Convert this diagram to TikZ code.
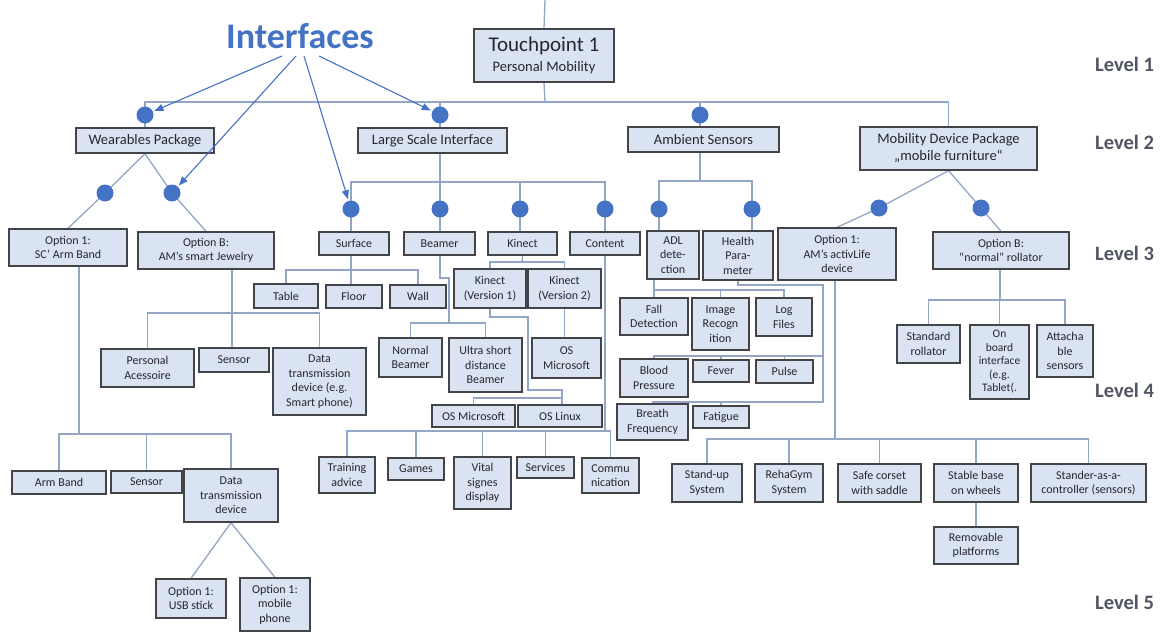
\documentclass[tikz,border=0pt]{standalone}
\usepackage{fontspec}
\setmainfont{Carlito}
\usetikzlibrary{arrows.meta,backgrounds,calc}

\definecolor{boxfill}{RGB}{218,227,242}
\definecolor{boxline}{RGB}{68,68,72}
\definecolor{wirec}{RGB}{148,166,198}
\definecolor{accent}{RGB}{68,114,196}
\definecolor{txt}{RGB}{38,38,46}
\definecolor{lvl}{RGB}{82,86,98}

\tikzset{
  bx/.style={draw=boxline, fill=boxfill, line width=1.4pt, inner sep=0pt,
    align=center, text=txt, font=\fontsize{12}{14.5}\selectfont},
  bxL/.style={font=\fontsize{14.5}{17}\selectfont},
  dotn/.style={circle, fill=accent, inner sep=0pt, minimum size=17pt},
  wire/.style={draw=wirec, line width=1.3pt},
  iarrow/.style={draw=accent, line width=1.1pt, shorten >=1.5pt,
    -{Triangle[length=9pt,width=7pt]}},
  lvllabel/.style={anchor=west, text=lvl, inner sep=0pt,
    font=\bfseries\fontsize{20.5}{24}\selectfont},
}

% box given by its corners (x1,y1) and (x2,y2), y grows downwards
\newcommand\bx[7][]{\node[bx,#1,minimum width={#5-#3},minimum height={#6-#4}]
  (#2) at ({(#3+#5)/2},{(#4+#6)/2}) {#7};}

\begin{document}
\begin{tikzpicture}[x=1pt,y=-1pt]
\useasboundingbox (0,0) rectangle (1164,632);

% ---- title and level labels
\node[font=\bfseries\fontsize{36}{40}\selectfont, text=accent, anchor=base, inner sep=0pt]
  (iface) at (300,48) {Interfaces};
\node[lvllabel] (lv1) at (1095,64) {Level 1};
\node[lvllabel] (lv2) at (1095,142) {Level 2};
\node[lvllabel] (lv3) at (1095,253) {Level 3};
\node[lvllabel] (lv4) at (1095,390) {Level 4};
\node[lvllabel] (lv5) at (1095,602) {Level 5};

% ---- level 1 and 2
\bx[bxL]{tp}{474}{29}{614}{82}{{\fontsize{21}{24}\selectfont Touchpoint 1}\\[3pt]Personal Mobility}
\bx[bxL]{wear}{76}{128}{214}{153}{Wearables Package}
\bx[bxL]{lsi}{358}{128}{507}{153}{Large Scale Interface}
\bx[bxL]{amb}{628}{127}{779}{152}{Ambient Sensors}
\bx[bxL]{mob}{860}{127}{1037}{170}{Mobility Device Package\\„mobile furniture“}

% ---- level 3
\bx{opt1sc}{9}{229}{127}{266}{Option 1:\\SC’ Arm Band}
\bx{optBj}{138}{232}{274}{269}{Option B:\\AM’s smart Jewelry}
\bx{surf}{319}{232}{389}{255}{Surface}
\bx{beam}{404}{232}{475}{255}{Beamer}
\bx{kin}{488}{232}{557}{255}{Kinect}
\bx{cont}{570}{232}{640}{255}{Content}
\bx{adl}{647}{231}{699}{279}{ADL\\dete-\\ction}
\bx{hp}{703}{231}{773}{280}{Health\\Para-\\meter}
\bx{opt1al}{778}{228}{896}{280}{Option 1:\\AM’s activLife\\device}
\bx{optBr}{933}{232}{1069}{269}{Option B:\\“normal” rollator}

% ---- level 4 and below
\bx{table}{254}{284}{318}{308}{Table}
\bx{floor}{326}{285}{382}{308}{Floor}
\bx{wall}{390}{285}{446}{308}{Wall}
\bx{kv1}{454}{269}{526}{308}{Kinect\\(Version 1)}
\bx{kv2}{528}{269}{601}{308}{Kinect\\(Version 2)}
\bx{pers}{101}{349}{194}{387}{Personal\\Acessoire}
\bx{sensB}{199}{348}{269}{372}{Sensor}
\bx{dataB}{273}{348}{366}{415}{Data\\transmission\\device (e.g.\\Smart phone)}
\bx{nbeam}{379}{338}{442}{377}{Normal\\Beamer}
\bx{ubeam}{449}{338}{522}{392}{Ultra short\\distance\\Beamer}
\bx{osm2}{532}{338}{601}{378}{OS\\Microsoft}
\bx{osm}{432}{405}{515}{427}{OS Microsoft}
\bx{osl}{518}{405}{602}{427}{OS Linux}
\bx{fall}{620}{298}{688}{335}{Fall\\Detection}
\bx{img}{692}{298}{749}{350}{Image\\Recogn\\ition}
\bx{logf}{756}{298}{812}{336}{Log\\Files}
\bx{blood}{620}{359}{688}{397}{Blood\\Pressure}
\bx{fever}{693}{360}{749}{382}{Fever}
\bx{pulse}{756}{360}{813}{383}{Pulse}
\bx{breath}{617}{404}{688}{440}{Breath\\Frequency}
\bx{fatig}{693}{406}{749}{428}{Fatigue}
\bx{stdr}{897}{325}{960}{363}{Standard\\rollator}
\bx[font=\fontsize{11.5}{13.5}\selectfont]{onb}{970}{325}{1029}{399}{On\\board\\interface\\(e.g.\\Tablet(.}
\bx{att}{1037}{325}{1093}{377}{Attacha\\ble\\sensors}
\bx{armb}{12}{471}{106}{494}{Arm Band}
\bx{sensA}{111}{471}{182}{493}{Sensor}
\bx{dataA}{184}{469}{278}{522}{Data\\transmission\\device}
\bx{usb}{156}{579}{226}{618}{Option 1:\\USB stick}
\bx{phone}{240}{578}{310}{631}{Option 1:\\mobile\\phone}
\bx{train}{319}{457}{375}{493}{Training\\advice}
\bx{games}{388}{458}{444}{480}{Games}
\bx{vital}{454}{457}{511}{509}{Vital\\signes\\display}
\bx{serv}{517}{457}{574}{478}{Services}
\bx{comm}{582}{458}{639}{493}{Commu\\nication}
\bx{stand}{672}{464}{742}{502}{Stand-up\\System}
\bx{reha}{755}{464}{823}{502}{RehaGym\\System}
\bx{safe}{838}{464}{921}{502}{Safe corset\\with saddle}
\bx{stable}{934}{464}{1018}{502}{Stable base\\on wheels}
\bx{stander}{1031}{464}{1146}{502}{Stander-as-a-\\controller (sensors)}
\bx{remov}{934}{527}{1018}{564}{Removable\\platforms}

% ---- branch dots
\node[dotn] (dW)  at (145,115) {};
\node[dotn] (dL)  at (440,115) {};
\node[dotn] (dA)  at (700,115) {};
\node[dotn] (dW1) at (105,193) {};
\node[dotn] (dW2) at (172,193) {};
\node[dotn] (dS)  at (351,209) {};
\node[dotn] (dB)  at (440,209) {};
\node[dotn] (dK)  at (520,209) {};
\node[dotn] (dC)  at (605,209) {};
\node[dotn] (dAD) at (659,209) {};
\node[dotn] (dH)  at (752,209) {};
\node[dotn] (dM1) at (879,208) {};
\node[dotn] (dM2) at (981,208) {};

% ---- bus junctions
\coordinate (topend) at (545,0);
\coordinate (b1) at (545,102);
\coordinate (lsib) at (440,182);
\coordinate (ambb) at (700,181);
\coordinate (scb) at (79,434);
\coordinate (jwb) at (232,313);
\coordinate (sfb) at (351,270);
\coordinate (bm1) at (440,278);
\coordinate (bm2) at (449,278);
\coordinate (bmb) at (449,323);
\coordinate (knb) at (522,262);
\coordinate (kb1) at (528,317);
\coordinate (kb2) at (562,390);
\coordinate (osb) at (562,398);
\coordinate (ctb) at (605,431);
\coordinate (adlb) at (653,290);
\coordinate (hp1) at (823,285);
\coordinate (hpb) at (823,356);
\coordinate (hp2) at (823,402);
\coordinate (alb) at (835,439);
\coordinate (rlb) at (1000,300);

% ---- connectors (behind boxes and dots)
\begin{scope}[on background layer]
\fill[white] (0,0) rectangle (1164,632);
\draw[wire] (topend) -- (tp.north);
\draw[wire] (tp.south) -- (b1);
\draw[wire] (wear.north) |- (b1) -| (mob.north);
\draw[wire] (dL.center |- b1) -- (lsi.north -| dL);
\draw[wire] (dA.center |- b1) -- (amb.north -| dA);
% wearables
\draw[wire] (wear.south) -- (dW1.center) -- (opt1sc.north);
\draw[wire] (wear.south) -- (dW2.center) -- (optBj.north);
% large scale interface
\draw[wire] (lsi.south -| dB) -- (beam.north -| dB);
\draw[wire] (surf.north -| dS) |- (lsib) -| (cont.north -| dC);
\draw[wire] (dK.center |- lsib) -- (kin.north -| dK);
% ambient sensors
\draw[wire] (amb.south -| ambb) -- (ambb);
\draw[wire] (adl.north -| dAD) |- (ambb) -| (hp.north -| dH);
% mobility device package
\draw[wire] (mob.south) -- (dM1.center) -- (opt1al.north);
\draw[wire] (mob.south) -- (dM2.center) -- (optBr.north);
% arm band
\draw[wire] (opt1sc.south -| scb) -- (scb);
\draw[wire] (armb.north) |- (scb) -| (dataA.north);
\draw[wire] (sensA.north) -- (sensA.north |- scb);
\draw[wire] (usb.north) -- (dataA.south) -- (phone.north);
% smart jewelry
\draw[wire] (optBj.south -| jwb) -- (sensB.north -| jwb);
\draw[wire] (pers.north) |- (jwb) -| (dataB.north);
% surface
\draw[wire] (surf.south -| dS) -- (floor.north -| dS);
\draw[wire] (table.north) |- (sfb) -| (wall.north);
% beamer
\draw[wire] (beam.south -| bm1) -- (bm1) -- (bm2) -- (bmb);
\draw[wire] (nbeam.north) |- (bmb) -| (ubeam.north);
% kinect
\draw[wire] (kin.south) -- (knb);
\draw[wire] (kv1.north) |- (knb) -| (kv2.north);
\draw[wire] (kv2.south) -- (kv2.south |- osm2.north);
\draw[wire] (kv1.south) |- (kb1) |- (kb2) -- (osb);
\draw[wire] (osm.north) |- (osb) -- (osl.north -| osb);
% content
\draw[wire] (cont.south) -- (ctb);
\draw[wire] (train.north) |- (ctb) -| (comm.north);
\foreach \n in {games,vital,serv} \draw[wire] (\n.north) -- (\n.north |- ctb);
% ADL detection
\draw[wire] (adl.south -| fall.north) -- (fall.north);
\draw[wire] (fall.north |- adlb) -| (logf.north);
\draw[wire] (img.north) -- (img.north |- adlb);
% health parameter
\draw[wire] (hp.south) |- (hp1) -- (hp2) -| (breath.north);
\draw[wire] (hpb) -| (blood.north);
\foreach \n in {fever,pulse} \draw[wire] (\n.north) -- (\n.north |- hpb);
\draw[wire] (fatig.north) -- (fatig.north |- hp2);
% activLife device
\draw[wire] (opt1al.south -| alb) -- (alb);
\draw[wire] (stand.north) |- (alb) -| (stander.north);
\foreach \n in {reha,safe,stable} \draw[wire] (\n.north) -- (\n.north |- alb);
\draw[wire] (stable.south) -- (remov.north);
% normal rollator
\draw[wire] (optBr.south -| rlb) -- (rlb);
\draw[wire] (stdr.north) |- (rlb) -| (att.north);
\draw[wire] (onb.north) -- (onb.north |- rlb);
\end{scope}

% ---- interface arrows
\draw[iarrow] ($(iface.base)+(-18,8)$) -- (dW);
\draw[iarrow] ($(iface.base)+(-4,8)$) -- (dW2);
\draw[iarrow] ($(iface.base)+(4,8)$) -- (dS);
\draw[iarrow] ($(iface.base)+(19,8)$) -- (dL);
\end{tikzpicture}
\end{document}
